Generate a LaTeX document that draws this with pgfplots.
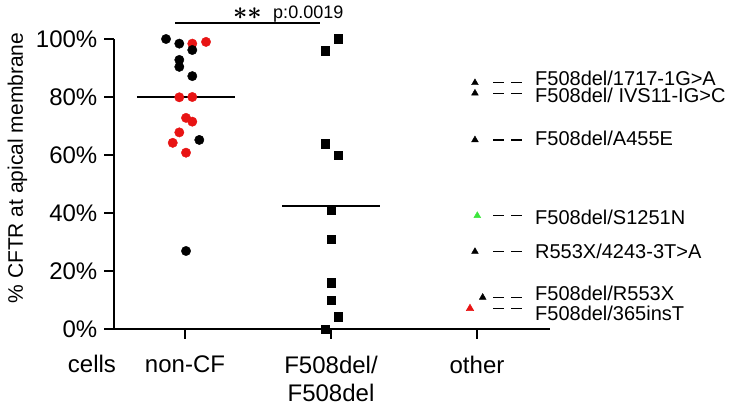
\documentclass[border=0pt]{standalone}
\usepackage{pgfplots}
\pgfplotsset{compat=1.18}
\usepackage{fontspec}
\setmainfont{Liberation Sans}
\definecolor{myred}{RGB}{232,20,20}
\definecolor{mygreen}{RGB}{60,230,60}
\newcommand{\twostars}{\mbox{\boldmath${\ast}{\ast}$}}
\begin{document}
\begin{tikzpicture}
\useasboundingbox (-114pt,-78pt) rectangle (624pt,329pt);
\begin{axis}[
  scale only axis, width=436pt, height=290pt,
  xmin=0.5137, xmax=3.5, ymin=0, ymax=100,
  axis x line*=bottom, axis y line*=left,
  axis line style={line width=2.5pt},
  tick style={line width=2.5pt, black},
  major tick length=9.5pt,
  tick align=outside,
  xtick={1,2,3}, xticklabels={non-CF, {F508del/\\F508del}, other},
  xticklabel style={align=center, font=\fontsize{24}{28}\selectfont, inner sep=0pt, anchor=north, yshift=-17pt},
  ytick={0,20,40,60,80,100},
  /pgf/number format/assume math mode=true,
  yticklabel={\pgfmathprintnumber{\tick}\%},
  yticklabel style={font=\fontsize{24}{28}\selectfont, inner sep=0pt, xshift=-7pt},
  ylabel={\% CFTR at apical membrane},
  every axis y label/.style={at={(rel axis cs:0,0.555)}, xshift=-91pt, rotate=90, anchor=base, font=\fontsize{21}{24}\selectfont},
  clip=false,
]
% non-CF red
\addplot[only marks, mark=*, mark size=4.7pt, color=myred] coordinates {
 (1.050,98.4) (1.144,99.0) (0.961,79.9) (1.050,80.0) (1.007,72.8)
 (1.050,71.5) (0.961,67.8) (0.916,64.2) (1.007,60.8)};
% non-CF black
\addplot[only marks, mark=*, mark size=4.7pt, color=black] coordinates {
 (0.870,100) (0.961,98.4) (1.050,96.2) (0.961,92.8) (0.961,90.4)
 (1.050,87.2) (1.098,65.2) (1.007,26.9)};
% F508del/F508del
\addplot[only marks, mark=square*, mark size=4.3pt, color=black] coordinates {
 (2.05,100) (1.959,95.9) (1.959,63.8) (2.05,60) (2.0,41.0)
 (2.0,30.9) (2.0,16.0) (2.0,10.0) (2.05,4.2) (1.959,0)};
% other
\addplot[only marks, mark=triangle*, mark size=3.9pt, color=black] coordinates {
 (2.986,84.9) (2.986,81.3) (2.986,65.2) (2.986,26.7) (3.039,10.9)};
\addplot[only marks, mark=triangle*, mark size=3.9pt, color=mygreen] coordinates {(3.002,39.1)};
\addplot[only marks, mark=triangle*, mark size=4.3pt, color=myred] coordinates {(2.952,7.1)};
% medians
\addplot[line width=2pt, black] coordinates {(0.671,80) (1.342,80)};
\addplot[line width=2pt, black] coordinates {(1.666,42.4) (2.336,42.4)};
% significance bar
\addplot[line width=2pt, black] coordinates {(0.932,105.4) (1.925,105.4)};
\node[anchor=center, inner sep=0pt, font=\fontsize{23}{23}\selectfont] at (axis cs:1.428,108.7) {\twostars};
\node[anchor=base west, inner sep=0pt, font=\fontsize{18}{20}\selectfont] at (axis cs:1.603,107.1) {p:0.0019};
% dashes
\addplot[line width=1.3pt, black, dash pattern=on 11pt off 7pt, unbounded coords=jump] table {
x y
3.110 84.9
3.315 84.9
nan nan
3.110 81.3
3.315 81.3
nan nan
3.110 65.2
3.315 65.2
nan nan
3.110 39.1
3.315 39.1
nan nan
3.110 26.7
3.315 26.7
nan nan
3.110 10.9
3.315 10.9
nan nan
3.110 7.1
3.315 7.1
};
\begin{scope}[every node/.style={anchor=base west, inner sep=0pt, font=\fontsize{20}{24}\selectfont}]
\node at (axis cs:3.397,83.8) {F508del/1717-1G>A};
\node at (axis cs:3.397,78.0) {F508del/ IVS11-IG>C};
\node at (axis cs:3.397,63.4) {F508del/A455E};
\node at (axis cs:3.397,36.2) {F508del/S1251N};
\node at (axis cs:3.397,24.4) {R553X/4243-3T>A};
\node at (axis cs:3.397,9.76) {F508del/R553X};
\node at (axis cs:3.397,3.1) {F508del/365insT};
\end{scope}
\node[anchor=base, inner sep=0pt, font=\fontsize{24}{28}\selectfont] at (axis cs:0.363,-14.83) {cells};
\end{axis}
\end{tikzpicture}
\end{document}
